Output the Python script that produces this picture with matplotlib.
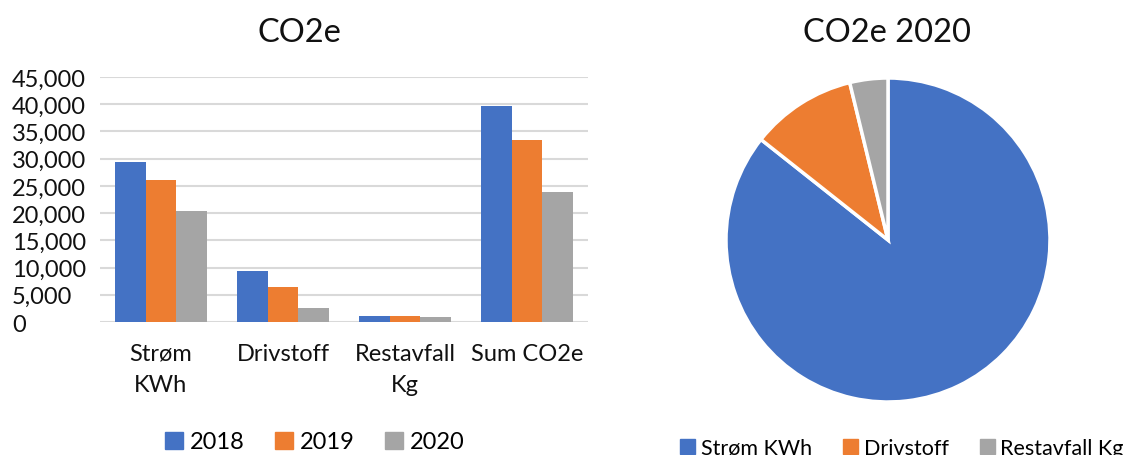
import numpy as np
import matplotlib
matplotlib.use("Agg")
import matplotlib.pyplot as plt
from matplotlib.patches import Patch
from matplotlib.ticker import FuncFormatter

plt.rcParams['font.family'] = ['Lato', 'DejaVu Sans']

# Data
categories = ['Strøm\nKWh', 'Drivstoff', 'Restavfall\nKg', 'Sum CO2e']
years = ['2018', '2019', '2020']
v2018 = [29400, 9300, 1100, 39700]
v2019 = [26100, 6500, 1100, 33500]
v2020 = [20300, 2500, 900, 23800]
pie_labels = ['Strøm KWh', 'Drivstoff', 'Restavfall Kg']
pie_values = v2020[:3]

colors = ['#4472C4', '#ED7D31', '#A5A5A5']

W, H = 1127, 456
fig = plt.figure(figsize=(W / 100, H / 100), dpi=100)

# bar chart
ax = fig.add_axes([100 / W, 1 - 323 / H, 488 / W, 245 / H])
x = np.arange(len(categories))
bw = 0.25
for i, vals in enumerate([v2018, v2019, v2020]):
    ax.bar(x + (i - 1) * bw, vals, bw, color=colors[i], zorder=2)
ax.set_xlim(-0.5, len(categories) - 0.5)
ax.set_ylim(0, 45000)
ax.set_yticks(np.arange(0, 45001, 5000))
ax.yaxis.set_major_formatter(FuncFormatter(lambda v, p: f'{int(v):,}'))
ax.set_xticks(x)
ax.set_xticklabels(categories, linespacing=1.6)
ax.grid(axis='y', color='#D9D9D9', linewidth=1.5, zorder=0)
for s in ax.spines.values():
    s.set_visible(False)
ax.tick_params(axis='both', length=0, labelsize=17, colors='#111111')
ax.tick_params(axis='y', pad=0)
ax.tick_params(axis='x', pad=15)
for lab in ax.get_yticklabels():
    lab.set_horizontalalignment('left')
    lab.set_x(-88 / 488)
fig.text(299 / W, 1 - 33 / H, 'CO2e', ha='center', va='center', fontsize=23.5, color='#111111')

handles = [Patch(color=c, label=y) for c, y in zip(colors, years)]
fig.legend(handles=handles, loc='center', bbox_to_anchor=(315 / W, 1 - 443 / H), ncol=3,
           frameon=False, fontsize=17, handlelength=0.76, handleheight=0.76,
           handletextpad=0.3, columnspacing=1.27)

# pie chart
cx, cy, r = 888, 241, 162
pax = fig.add_axes([(cx - r) / W, 1 - (cy + r) / H, 2 * r / W, 2 * r / H])
pax.pie(pie_values, colors=colors, startangle=90, counterclock=False,
        wedgeprops=dict(edgecolor='white', linewidth=2.5))
pax.set_xlim(-1.0, 1.0)
pax.set_ylim(-1.0, 1.0)
pax.set_aspect('equal')
pax.axis('off')
fig.text(887 / W, 1 - 33 / H, 'CO2e 2020', ha='center', va='center', fontsize=23.5, color='#111111')

phandles = [Patch(color=c, label=l) for c, l in zip(colors, pie_labels)]
fig.legend(handles=phandles, loc='center', bbox_to_anchor=(902 / W, 1 - 449 / H), ncol=3,
           frameon=False, fontsize=15.5, handlelength=0.7, handleheight=0.7,
           handletextpad=0.25, columnspacing=1.45)

fig.savefig('out.png', dpi=100)
